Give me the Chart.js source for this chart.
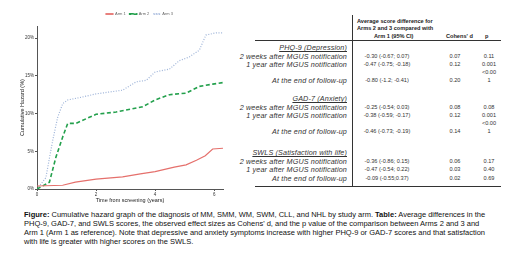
<!DOCTYPE html>
<html>
<head>
<meta charset="utf-8">
<script src="https://cdn.jsdelivr.net/npm/chart.js@4/dist/chart.umd.min.js"></script>
<style>
  html, body { margin: 0; padding: 0; background: #fff; }
  body { width: 520px; height: 267px; position: relative; overflow: hidden; font-family: "Liberation Sans", Arial, sans-serif; color: #222; }
  #chartBox { position: absolute; left: 0; top: 0; width: 235px; height: 205px; }
  .t { position: absolute; white-space: nowrap; line-height: 1; }
  .lab { font-style: italic; font-size: 7.2px; letter-spacing: 0.15px; color: #333; transform: translateX(-100%); }
  .sec { font-style: italic; font-size: 7.2px; letter-spacing: 0.15px; color: #333; text-decoration: underline; transform: translateX(-100%); }
  .num { font-size: 5.6px; color: #333; transform: translateX(-50%); }
  .hd { font-weight: bold; font-size: 5.6px; }
  .ln { position: absolute; background: #333; }
  #caption { position: absolute; left: 24px; top: 210px; font-size: 7.5px; line-height: 9px; white-space: nowrap; color: #111; }
</style>
</head>
<body>
<div id="chartBox"><canvas id="hazardChart"></canvas></div>
<div id="table"></div>
<div id="caption">
<b>Figure:</b> Cumulative hazard graph of the diagnosis of MM, SMM, WM, SWM, CLL, and NHL by study arm. <b>Table:</b> Average differences in the<br>
PHQ-9, GAD-7, and SWLS scores, the observed effect sizes as Cohens' d, and the p value of the comparison between Arms 2 and 3 and<br>
Arm 1 (Arm 1 as reference). Note that depressive and anxiety symptoms increase with higher PHQ-9 or GAD-7 scores and that satisfaction<br>
with life is greater with higher scores on the SWLS.
</div>
<script>
// cumulative hazard (%)
const arm1Time = [0, 0.87, 1.3, 2, 2.9, 3.5, 4, 4.65, 5.05, 5.4, 5.7, 5.95, 6.3];
const arm1Haz  = [0.4, 0.5, 0.9, 1.3, 1.6, 2.0, 2.3, 2.9, 3.2, 3.8, 4.4, 5.3, 5.4];
const arm2Time = [0, 0.42, 0.64, 0.87, 1.04, 1.32, 2, 2.68, 3.58, 4, 4.49, 5.05, 5.5, 5.95, 6.3];
const arm2Haz  = [0, 0.9, 4.2, 6.9, 8.7, 8.7, 9.9, 10.2, 10.9, 11.8, 12.5, 12.7, 13.6, 13.9, 14.1];
const arm3Time = [0, 0.3, 0.53, 0.7, 0.87, 1.04, 1.55, 2, 2.9, 3.36, 3.7, 4, 4.49, 4.82, 5.16, 5.5, 5.72, 6.07, 6.3];
const arm3Haz  = [0, 1.5, 6.4, 9.5, 11.3, 11.8, 12.2, 12.6, 13.1, 14.2, 14.4, 15.5, 15.9, 17.0, 17.5, 18.4, 20.4, 20.7, 20.7];
const xTicks = [0, 2, 4, 6];
const yTicks = [0, 5, 10, 15, 20];

// table
const outcomes = ['PHQ-9 (Depression)', 'GAD-7 (Anxiety)', 'SWLS (Satisfaction with life)'];
const timepoints = ['2 weeks after MGUS notification', '1 year after MGUS notification', 'At the end of follow-up'];
const scoreDiffs = [
  ['-0.30 (-0.67; 0.07)', '-0.47 (-0.75; -0.18)', '-0.80 (-1.2; -0.41)'],
  ['-0.25 (-0.54; 0.03)', '-0.38 (-0.59; -0.17)', '-0.46 (-0.73; -0.19)'],
  ['-0.36 (-0.86; 0.15)', '-0.47 (-0.54; 0.22)', '-0.09 (-0.55;0.37)']
];
const cohensD = [['0.07', '0.12', '0.20'], ['0.08', '0.12', '0.14'], ['0.06', '0.03', '0.02']];
const pValues = [['0.11', '0.001', '<0.001'], ['0.08', '0.001', '<0.001'], ['0.17', '0.40', '0.69']];

function put(cls, x, y, html) {
  const el = document.createElement('div');
  el.className = 't ' + cls;
  el.style.left = x + 'px';
  el.style.top = y + 'px';
  el.innerHTML = html;
  document.getElementById('table').appendChild(el);
}
function line(x, y, w, h) {
  const el = document.createElement('div');
  el.className = 'ln';
  el.style.left = x + 'px'; el.style.top = y + 'px';
  el.style.width = w + 'px'; el.style.height = h + 'px';
  document.getElementById('table').appendChild(el);
}

put('hd', 357, 18.5, 'Average score difference for');
put('hd', 357, 26, 'Arms 2 and 3 compared with');
put('hd', 374, 33.5, 'Arm 1 (95% CI)');
put('hd', 446, 33.5, "Cohens' d");
put('hd', 485, 33.5, 'p');
line(255, 40, 246, 1.2);
line(351.5, 15, 1.2, 172);
line(255, 186, 246, 1);

const secTop = [44, 95, 149];
outcomes.forEach((o, i) => {
  let y = secTop[i];
  put('sec', 347, y, o);
  timepoints.forEach((tp, j) => {
    const p = pValues[i][j];
    const wrap = p === '<0.001' && i < 2;
    y += wrap ? 16 : 8.7;
    put('lab', 347, y, tp);
    put('num', 387, y + 1, scoreDiffs[i][j]);
    put('num', 455, y + 1, cohensD[i][j]);
    if (wrap) {
      put('num', 489, y - 7, '&lt;0.00');
      put('num', 489, y + 1, '1');
    } else {
      put('num', 489, y + 1, p);
    }
  });
});

const toXY = (ts, hs) => ts.map((t, i) => ({ x: t, y: hs[i] }));

// nudge the legend to sit over the plot area like the original
const legendShift = {
  id: 'legendShift',
  afterLayout(chart) {
    chart.legend.left += 19;
    chart.legend.right += 19;
  }
};

new Chart(document.getElementById('hazardChart'), {
  type: 'line',
  data: {
    datasets: [
      { label: 'Arm 1', data: toXY(arm1Time, arm1Haz), borderColor: '#e5706c', backgroundColor: '#e5706c', borderWidth: 1.2, pointRadius: 0, tension: 0 },
      { label: 'Arm 2', data: toXY(arm2Time, arm2Haz), borderColor: '#23a04c', backgroundColor: '#23a04c', borderWidth: 1.6, borderDash: [4, 2.5], pointRadius: 0, tension: 0 },
      { label: 'Arm 3', data: toXY(arm3Time, arm3Haz), borderColor: '#9db3d8', backgroundColor: '#9db3d8', borderWidth: 1.2, borderDash: [1, 1.6], pointRadius: 0, tension: 0 }
    ]
  },
  plugins: [legendShift],
  options: {
    responsive: true,
    maintainAspectRatio: false,
    animation: false,
    layout: { padding: { left: 18, right: 12, top: 8, bottom: 0 } },
    plugins: {
      legend: {
        position: 'top',
        labels: { font: { size: 4 }, color: '#666', boxWidth: 7, boxHeight: 0.5, padding: 4 }
      },
      tooltip: { enabled: false }
    },
    scales: {
      x: {
        type: 'linear', min: 0, max: 6.3,
        afterBuildTicks: s => { s.ticks = xTicks.map(v => ({ value: v })); },
        grid: { drawOnChartArea: false, color: '#555', tickLength: 2 },
        border: { display: true, color: '#555', width: 1 },
        ticks: { font: { size: 4.5 }, color: '#333', padding: 1 },
        title: { display: true, text: 'Time from screening (years)', font: { size: 5.5 }, color: '#222', padding: { top: 0, bottom: 1 } },
        afterFit: s => { s.height = 16; }
      },
      y: {
        min: 0, max: 21.6,
        afterBuildTicks: s => { s.ticks = yTicks.map(v => ({ value: v })); },
        grid: { drawOnChartArea: false, color: '#555', tickLength: 2 },
        border: { display: true, color: '#555', width: 1 },
        ticks: { font: { size: 4.5 }, color: '#333', padding: 1, callback: v => v + '%' },
        title: { display: true, text: 'Cumulative Hazard (%)', font: { size: 5.5 }, color: '#222', padding: 1 },
        afterFit: s => { s.width = 19; }
      }
    }
  }
});
</script>
</body>
</html>
